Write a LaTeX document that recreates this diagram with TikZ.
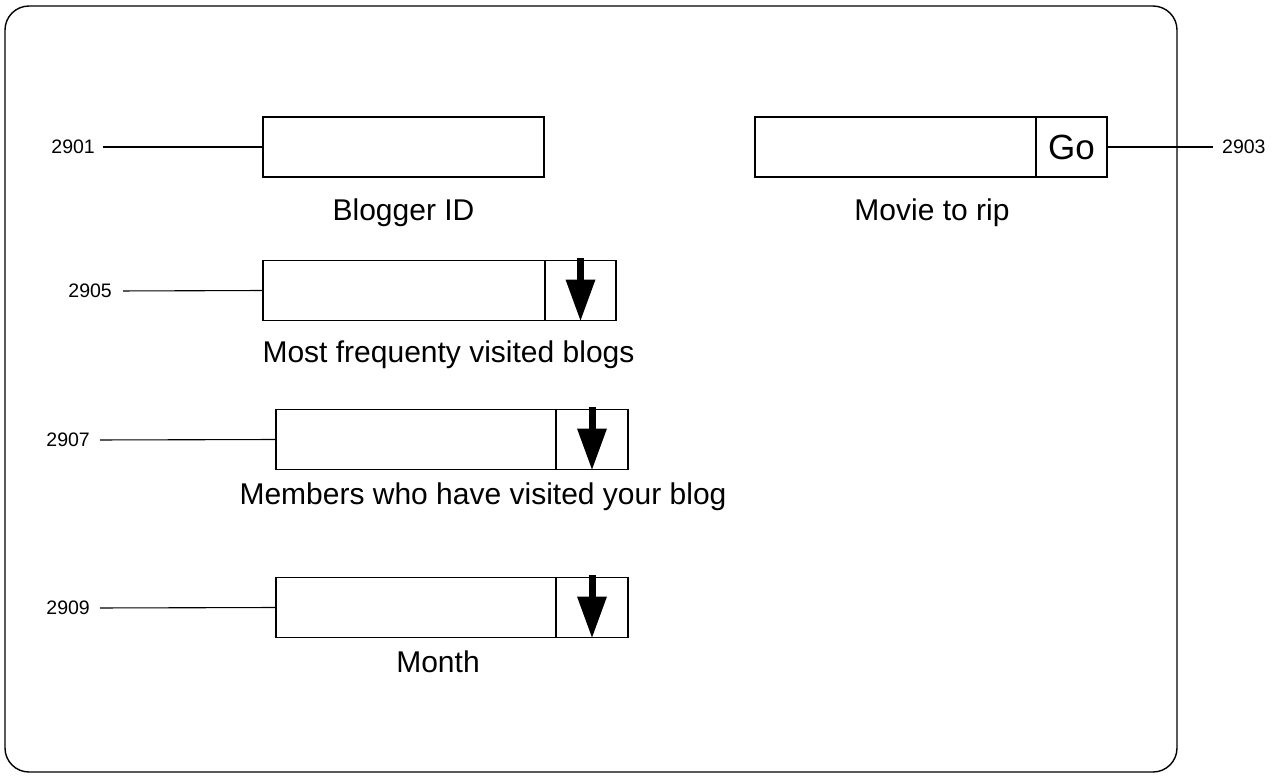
\documentclass[tikz,border=0pt]{standalone}
\usepackage{fontspec}
\setmainfont{Liberation Sans}
\usetikzlibrary{positioning}
\tikzset{
  field/.style={draw, line width=1.1pt, minimum height=60pt,
    inner sep=0pt, outer sep=0pt},
  caption/.style={font=\fontsize{30}{34}\selectfont, inner sep=0pt},
  refnum/.style={font=\fontsize{19.5}{23}\selectfont, inner sep=0pt},
  leader/.style={line width=1.1pt}
}
% filled down arrow inside a drop-down cell
\newcommand{\dropArrow}[1]{%
  \fill ([shift={(-3.5,-3)}]#1.north) rectangle ([shift={(3.5,-5)}]#1.center);
  \fill ([shift={(-15,-11)}]#1.center) -- ([shift={(15,-11)}]#1.center)
    -- (#1.south) -- cycle;}

\begin{document}
\begin{tikzpicture}[x=1pt,y=-1pt]
  \useasboundingbox (0,0) rectangle (1279,777);
  \draw[line width=1.4pt, rounded corners=24pt] (5,6) rectangle (1177,772);

  % Blogger ID
  \node[field, minimum width=281pt] (BloggerBox) at (403.5,147) {};
  \node[caption] (BloggerText) at (403.5,213) {Blogger ID};
  \node[refnum, anchor=east] (Ref2901) at (95,147) {2901};
  \draw[leader, shorten <=8pt] (Ref2901.east) -- (BloggerBox.west);

  % Movie to rip
  \node[field, minimum width=281pt] (MovieBox) at (895.5,147) {};
  \node[field, minimum width=71pt, right=0pt of MovieBox,
    font=\fontsize{35}{38}\selectfont] (GoButton) {Go};
  \node[caption] (MovieText) at (932,213) {Movie to rip};
  \node[refnum, anchor=west] (Ref2903) at (1222,147) {2903};
  \draw[leader, shorten >=9pt] (GoButton.east) -- (Ref2903.west);

  % Most frequenty visited blogs
  \node[field, minimum width=282pt] (BlogsBox) at (404,290.5) {};
  \node[field, minimum width=71pt, right=0pt of BlogsBox] (BlogsDrop) {};
  \dropArrow{BlogsDrop}
  \node[caption] (BlogsText) at (448.5,355) {Most frequenty visited blogs};
  \node[refnum, anchor=east] (Ref2905) at (112,291) {2905};
  \draw[leader, shorten <=11pt] (Ref2905.east) -- (BlogsBox.west);

  % Members who have visited your blog
  \node[field, minimum width=280pt] (MembersBox) at (416,439.5) {};
  \node[field, minimum width=72pt, right=0pt of MembersBox] (MembersDrop) {};
  \dropArrow{MembersDrop}
  \node[caption] (MembersText) at (483,497) {Members who have visited your blog};
  \node[refnum, anchor=east] (Ref2907) at (90,440) {2907};
  \draw[leader, shorten <=10pt] (Ref2907.east) -- (MembersBox.west);

  % Month
  \node[field, minimum width=280pt] (MonthBox) at (416,607.5) {};
  \node[field, minimum width=72pt, right=0pt of MonthBox] (MonthDrop) {};
  \dropArrow{MonthDrop}
  \node[caption] (MonthText) at (438,662) {Month};
  \node[refnum, anchor=east] (Ref2909) at (90,608) {2909};
  \draw[leader, shorten <=10pt] (Ref2909.east) -- (MonthBox.west);
\end{tikzpicture}
\end{document}
